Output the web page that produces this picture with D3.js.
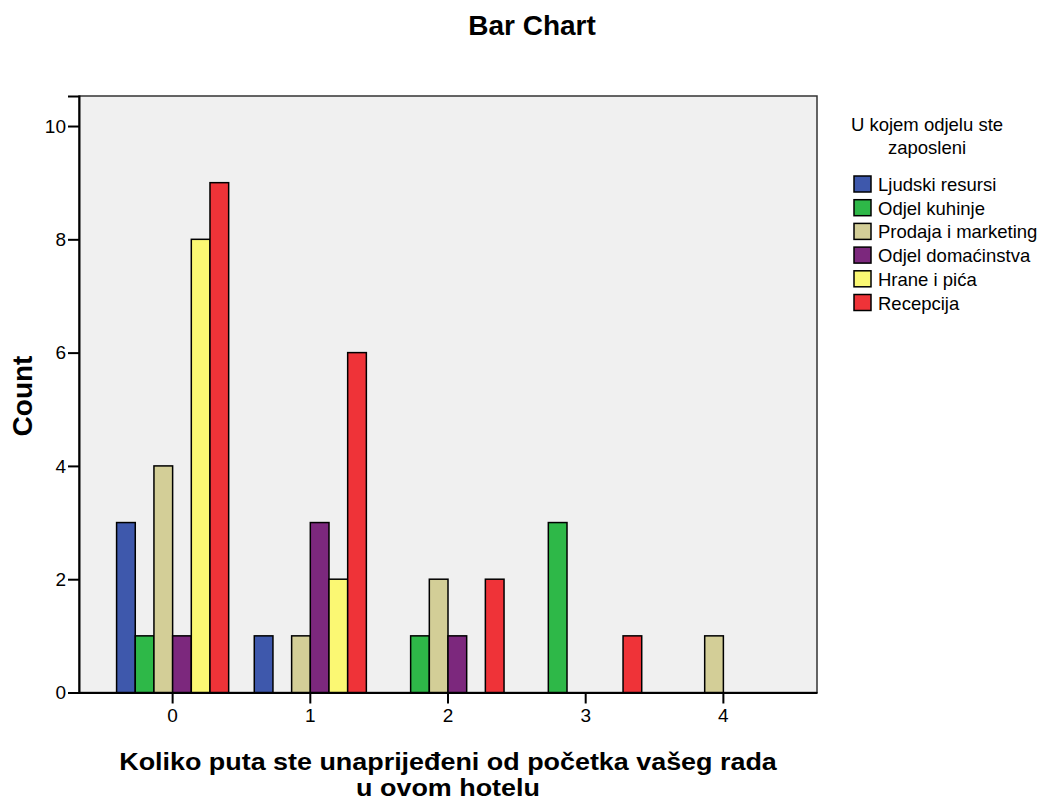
<!DOCTYPE html>
<html>
<head>
<meta charset="utf-8">
<script src="https://cdn.jsdelivr.net/npm/d3@7"></script>
<style>
  body { margin: 0; background: #fff; }
  svg { font-family: "Liberation Sans", Arial, sans-serif; }
</style>
</head>
<body>
<svg id="chart" width="1050" height="801"></svg>
<script>
const categories = ["0", "1", "2", "3", "4"];
const series = ["Ljudski resursi", "Odjel kuhinje", "Prodaja i marketing", "Odjel domaćinstva", "Hrane i pića", "Recepcija"];
const colors = ["#3e58ac", "#2eb848", "#d3ce97", "#7c287d", "#fbf873", "#ef3338"];
// counts per series, one value per category
const ljudski = [3, 1, 0, 0, 0];
const kuhinja = [1, 0, 1, 3, 0];
const prodaja = [4, 1, 2, 0, 1];
const domacinstvo = [1, 3, 1, 0, 0];
const hrana = [8, 2, 0, 0, 0];
const recepcija = [9, 6, 2, 1, 0];
const yTicks = [0, 2, 4, 6, 8, 10];

const values = [ljudski, kuhinja, prodaja, domacinstvo, hrana, recepcija];
const rows = [];
categories.forEach((c, i) => {
  series.forEach((s, j) => {
    if (values[j][i] > 0) rows.push({ cat: c, series: s, value: values[j][i], color: colors[j] });
  });
});

const svg = d3.select("#chart");
const plot = { left: 79, right: 817, top: 96, bottom: 692.5 };

const x0 = d3.scaleBand()
  .domain(categories)
  .range([plot.left, plot.right])
  .paddingInner(0.186)
  .paddingOuter(0.273);
const x1 = d3.scaleBand()
  .domain(series)
  .range([0, x0.bandwidth()]);
const y = d3.scaleLinear()
  .domain([0, 10.53])
  .range([plot.bottom, plot.top]);

svg.append("rect")
  .attr("x", plot.left)
  .attr("y", plot.top)
  .attr("width", plot.right - plot.left)
  .attr("height", plot.bottom - plot.top)
  .attr("fill", "#f0f0f0")
  .attr("stroke", "#333")
  .attr("stroke-width", 1.5);

svg.append("g")
  .selectAll("rect")
  .data(rows)
  .join("rect")
  .attr("x", (d) => x0(d.cat) + x1(d.series))
  .attr("y", (d) => y(d.value))
  .attr("width", x1.bandwidth())
  .attr("height", (d) => y(0) - y(d.value))
  .attr("fill", (d) => d.color)
  .attr("stroke", "#000")
  .attr("stroke-width", 1.5);

const yAxis = d3.axisLeft(y).tickValues(yTicks).tickSize(11).tickPadding(2);
svg.append("g")
  .attr("transform", `translate(${plot.left},0)`)
  .call(yAxis)
  .call((g) => {
    g.select(".domain").attr("stroke", "#000").attr("stroke-width", 2);
    g.selectAll(".tick line").attr("stroke", "#000").attr("stroke-width", 2);
    g.selectAll(".tick text").attr("font-size", 19).attr("fill", "#000").attr("font-family", null);
  });

const xAxis = d3.axisBottom(x0).tickSize(11).tickSizeOuter(0).tickPadding(5);
svg.append("g")
  .attr("transform", `translate(0,${plot.bottom})`)
  .call(xAxis)
  .call((g) => {
    g.select(".domain").attr("stroke", "#000").attr("stroke-width", 2);
    g.selectAll(".tick line").attr("stroke", "#000").attr("stroke-width", 2);
    g.selectAll(".tick text").attr("font-size", 19).attr("fill", "#000").attr("font-family", null);
  });

svg.append("text")
  .attr("x", 532)
  .attr("y", 35)
  .attr("text-anchor", "middle")
  .attr("font-size", 28)
  .attr("font-weight", "bold")
  .text("Bar Chart");

svg.append("text")
  .attr("transform", "translate(32,396) rotate(-90)")
  .attr("text-anchor", "middle")
  .attr("font-size", 28)
  .attr("font-weight", "bold")
  .text("Count");

// x title: slightly widened so the two lines fit like the original
const xTitle = svg.append("text")
  .attr("transform", "translate(448,0) scale(1.17,1)")
  .attr("text-anchor", "middle")
  .attr("font-size", 23)
  .attr("font-weight", "bold");
xTitle.append("tspan").attr("x", 0).attr("y", 770).text("Koliko puta ste unaprijeđeni od početka vašeg rada");
xTitle.append("tspan").attr("x", 0).attr("y", 796).text("u ovom hotelu");

const legend = svg.append("g");
legend.append("text")
  .attr("text-anchor", "middle")
  .attr("font-size", 18.5)
  .selectAll("tspan")
  .data(["U kojem odjelu ste", "zaposleni"])
  .join("tspan")
  .attr("x", 927)
  .attr("y", (d, i) => 131 + i * 23)
  .text((d) => d);

const item = legend.selectAll("g.item")
  .data(series)
  .join("g")
  .attr("class", "item")
  .attr("transform", (d, i) => `translate(854,${176 + i * 23.7})`);
item.append("rect")
  .attr("width", 17)
  .attr("height", 16)
  .attr("fill", (d, i) => colors[i])
  .attr("stroke", "#000")
  .attr("stroke-width", 1.5);
item.append("text")
  .attr("x", 24)
  .attr("y", 15)
  .attr("font-size", 18.5)
  .text((d) => d);
</script>
</body>
</html>
